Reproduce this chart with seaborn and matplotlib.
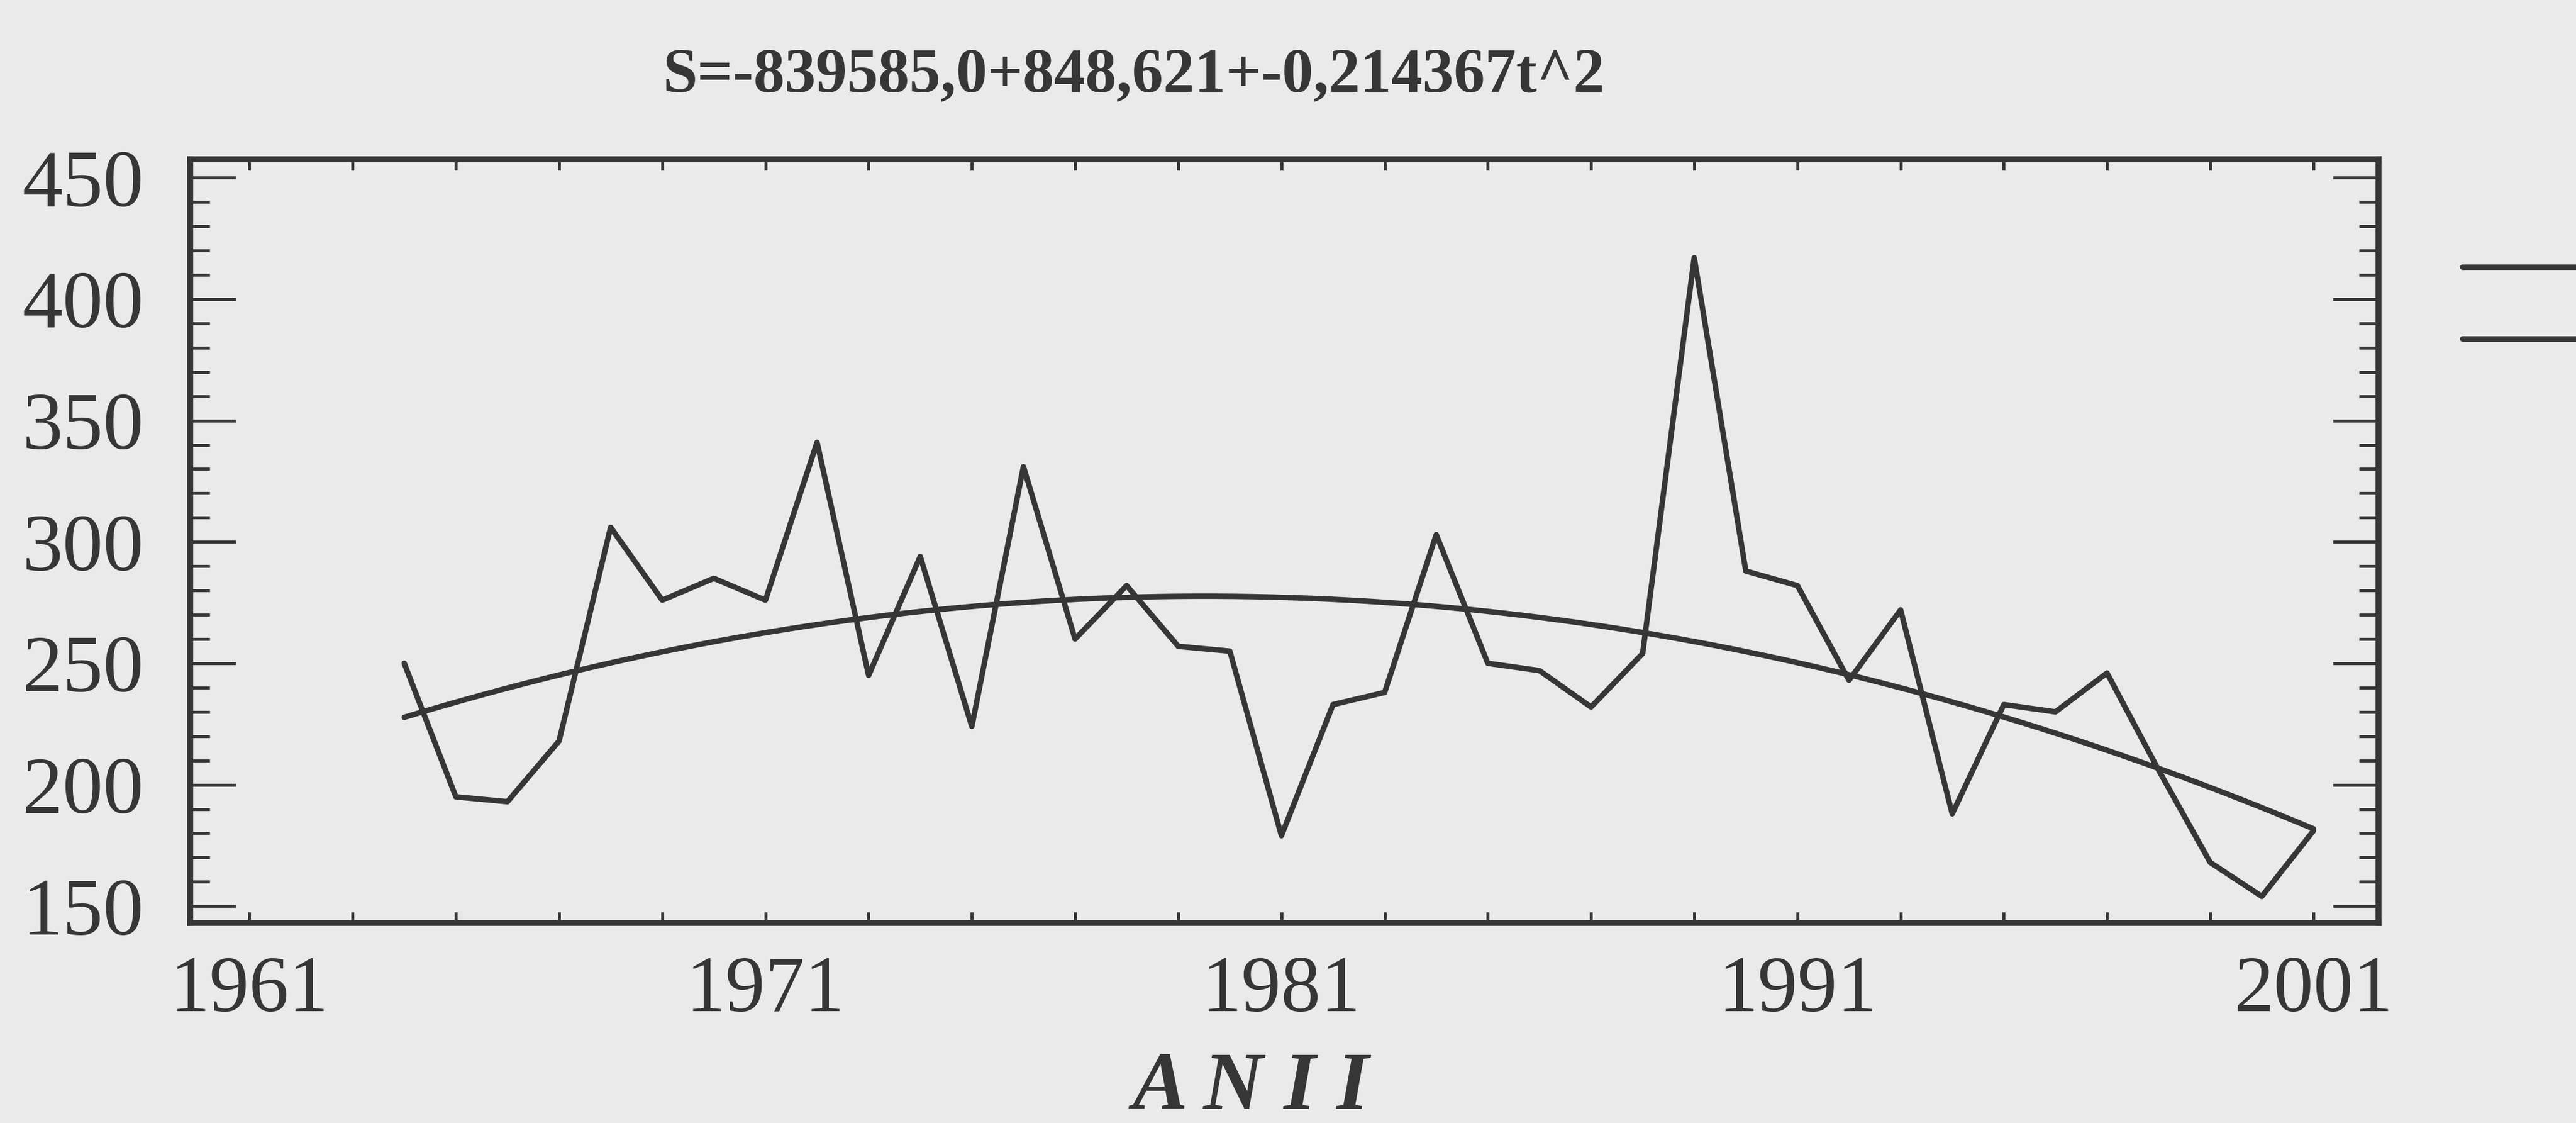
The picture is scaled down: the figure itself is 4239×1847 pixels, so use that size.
import matplotlib
matplotlib.use('Agg')
import pandas as pd
import matplotlib.pyplot as plt
import seaborn as sns
from matplotlib.ticker import MultipleLocator, FixedLocator, FuncFormatter

#data (annual values, 1964-2001)
years = list(range(1964, 2002))
values = [250, 195, 193, 218, 306, 276, 285, 276, 341, 245,
          294, 224, 331, 260, 282, 257, 255, 179, 233, 238,
          303, 250, 247, 232, 254, 417, 288, 282, 243, 272,
          188, 233, 230, 246, 206, 168, 154, 181]
title_text = 'S=-839585,0+848,621+-0,214367t^2'
xlabel_text = 'A N I I'
x_ticks = list(range(1961, 2002, 2))

df = pd.DataFrame({'an': years, 'S': values})

sns.set_style('ticks')
plt.rcParams['font.family'] = ['Liberation Serif', 'DejaVu Serif']

ink = '#363636'
paper = '#eaeaea'

fig = plt.figure(figsize=(42.39, 18.47), dpi=100, facecolor=paper)
ax = fig.add_axes([0.0738, 0.178, 0.8495, 0.680])
ax.set_facecolor(paper)

#series + quadratic trend
sns.lineplot(data=df, x='an', y='S', ax=ax, color=ink, lw=6.5)
sns.regplot(data=df, x='an', y='S', order=2, ci=None, scatter=False, ax=ax,
            line_kws=dict(color=ink, lw=6.5))

ax.set_xlim(1959.85, 2002.26)
ax.set_ylim(143, 457.5)
ax.set_xlabel('')
ax.set_ylabel('')

ax.xaxis.set_major_locator(FixedLocator(x_ticks))
ax.xaxis.set_major_formatter(FuncFormatter(lambda v, p: str(int(round(v))) if (int(round(v)) - 1961) % 10 == 0 else ''))
ax.yaxis.set_major_locator(MultipleLocator(50))
ax.yaxis.set_minor_locator(MultipleLocator(10))

ax.tick_params(which='both', direction='in', top=True, right=True, color=ink, width=3.5, labelcolor=ink)
ax.tick_params(axis='x', length=13, pad=38, labelsize=94)
ax.tick_params(axis='y', which='major', length=54, pad=55, labelsize=96)
ax.tick_params(axis='y', which='minor', length=23)
for s in ax.spines.values():
    s.set_linewidth(7)
    s.set_color(ink)

fig.text(0.44, 0.932, title_text, ha='center', va='center', fontsize=74,
         fontweight='bold', color=ink)
fig.text(0.4855, 0.030, xlabel_text, ha='center', va='center', fontsize=98,
         fontstyle='italic', fontweight='bold', color=ink)

#legend keys, cut off at the right edge like in the scan
fig.legend(handles=ax.lines[:2], labels=[' ', ' '], loc='upper left',
           bbox_to_anchor=(4052 / 4239, 1 - 418 / 1847), frameon=False,
           fontsize=40, handlelength=4, handletextpad=0, borderpad=0,
           borderaxespad=0, labelspacing=1.2)

fig.savefig('out.png', dpi=100, facecolor=paper)
